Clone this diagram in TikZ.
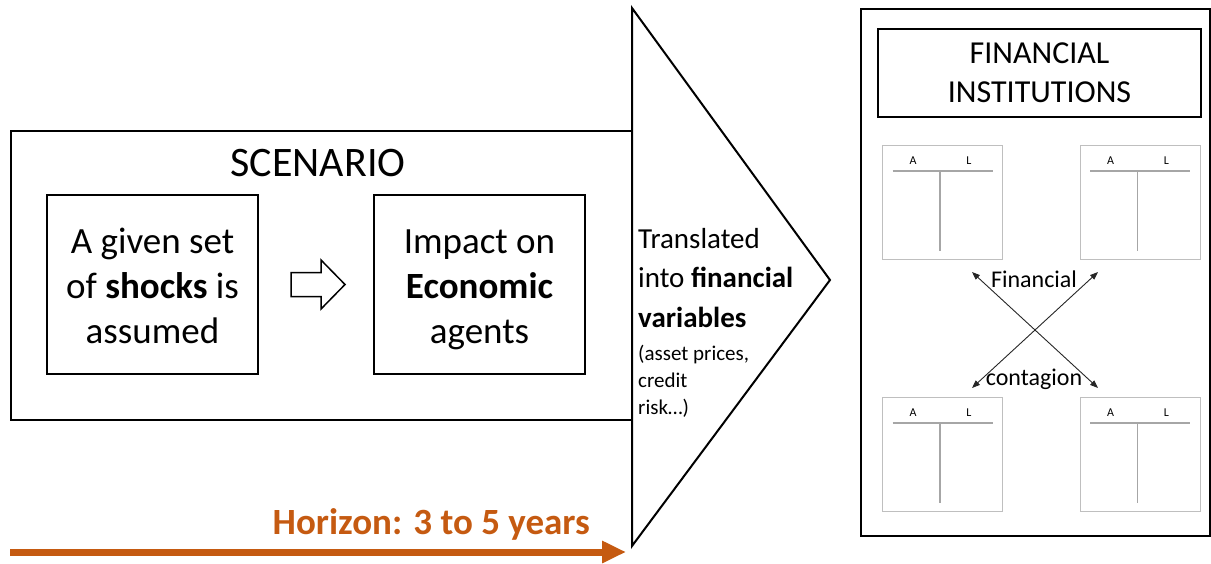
\documentclass[tikz,border=0pt]{standalone}
\usepackage{fontspec}
\setmainfont{Carlito}
\usetikzlibrary{arrows.meta,calc}
\definecolor{horizon}{HTML}{C55A11}
\definecolor{bsgray}{HTML}{BFBFBF}
\definecolor{bsline}{HTML}{A6A6A6}
\newcommand{\fsz}[2]{\fontsize{#1}{#2}\selectfont}
\tikzset{
  blk/.style={draw=black, line width=2pt, inner sep=0pt},
  txt/.style={inner sep=0pt, align=center},
  bs/.pic={
    \node[draw=bsgray, line width=1pt, minimum width=120, minimum height=114, inner sep=0pt] (-box) at (0,0) {};
    \draw[bsline, line width=1.5pt] (-50,-31) -- (50,-31);
    \draw[bsline, line width=1.5pt] (-2.5,-31) -- (-2.5,49);
    \node[inner sep=0pt, font=\fsz{12}{14}] (-a) at (-29.5,-41) {A};
    \node[inner sep=0pt, font=\fsz{12}{14}] (-l) at (26.5,-41) {L};
  },
  cross/.style={line width=0.9pt, draw=black!85, {Triangle[length=8pt,width=6pt]}-{Triangle[length=8pt,width=6pt]}}
}
\begin{document}
\begin{tikzpicture}[x=1pt,y=-1pt]
\useasboundingbox (0,0) rectangle (1211,563);

% scenario frame
\node[blk, anchor=north west, minimum width=622, minimum height=289] (scen) at (10,130) {};
\node[txt, font=\fsz{42}{50}] (scentitle) at (318,163) {SCENARIO};

\node[blk, minimum width=211, minimum height=179] (shocks) at (152.5,284.5) {};
\node[txt, font=\fsz{37}{45}] (shockstxt) at (152.5,286) {A given set\\of \textbf{shocks} is\\assumed};

\node[blk, minimum width=211, minimum height=179] (impact) at (479.5,284.5) {};
\node[txt, font=\fsz{37}{45}] (impacttxt) at (479.5,290) {Impact on\\\textbf{Economic}\\agents};

% hollow block arrow
\draw[line width=1.5pt, line join=miter] (291,272.5) -- (321,272.5) -- (321,260) -- (345,284.5) -- (321,309) -- (321,296.5) -- (291,296.5) -- cycle;

% triangle
\draw[line width=2pt, fill=white, line join=miter] (632,8) -- (830,280) -- (632,546) -- cycle;
\node[inner sep=0pt, align=left, anchor=west, font=\fsz{29}{39.5}] (transl) at (638,278) {Translated\\into \textbf{financial}\\\textbf{variables}};
\node[inner sep=0pt, align=left, anchor=west, font=\fsz{21}{27}] (translsmall) at (638,381) {(asset prices,\\credit\\risk…)};

% financial institutions
\node[blk, anchor=north west, minimum width=349, minimum height=527] (fi) at (860,8) {};
\node[blk, minimum width=323, minimum height=88] (fititle) at (1039.5,73) {};
\node[txt, font=\fsz{32}{39}] (fititletxt) at (1039.5,73) {FINANCIAL\\INSTITUTIONS};

\pic (tl) at (942.5,202) {bs};
\pic (tr) at (1140,202) {bs};
\pic (bl) at (942.5,454) {bs};
\pic (br) at (1140,454) {bs};

\coordinate (c1) at (972,272);
\coordinate (c2) at (1098,388);
\coordinate (c3) at (1098,272);
\coordinate (c4) at (972,388);
\draw[cross] (c1) -- (c2);
\draw[cross] (c3) -- (c4);
\node[inner sep=0pt, font=\fsz{24}{29}] (fin) at (1034,279) {Financial};
\node[inner sep=0pt, font=\fsz{24}{29}] (cont) at (1034,379) {contagion};

% horizon arrow
\coordinate (hs) at (10,552);
\coordinate (he) at (626,552);
\draw[horizon, line width=7pt, -{Triangle[length=24pt,width=21pt]}] (hs) -- (he);
\node[inner sep=0pt, anchor=east, text=horizon, font=\bfseries\fsz{37}{44}] (hor) at (590,524) {Horizon: 3 to 5 years};
\end{tikzpicture}
\end{document}
